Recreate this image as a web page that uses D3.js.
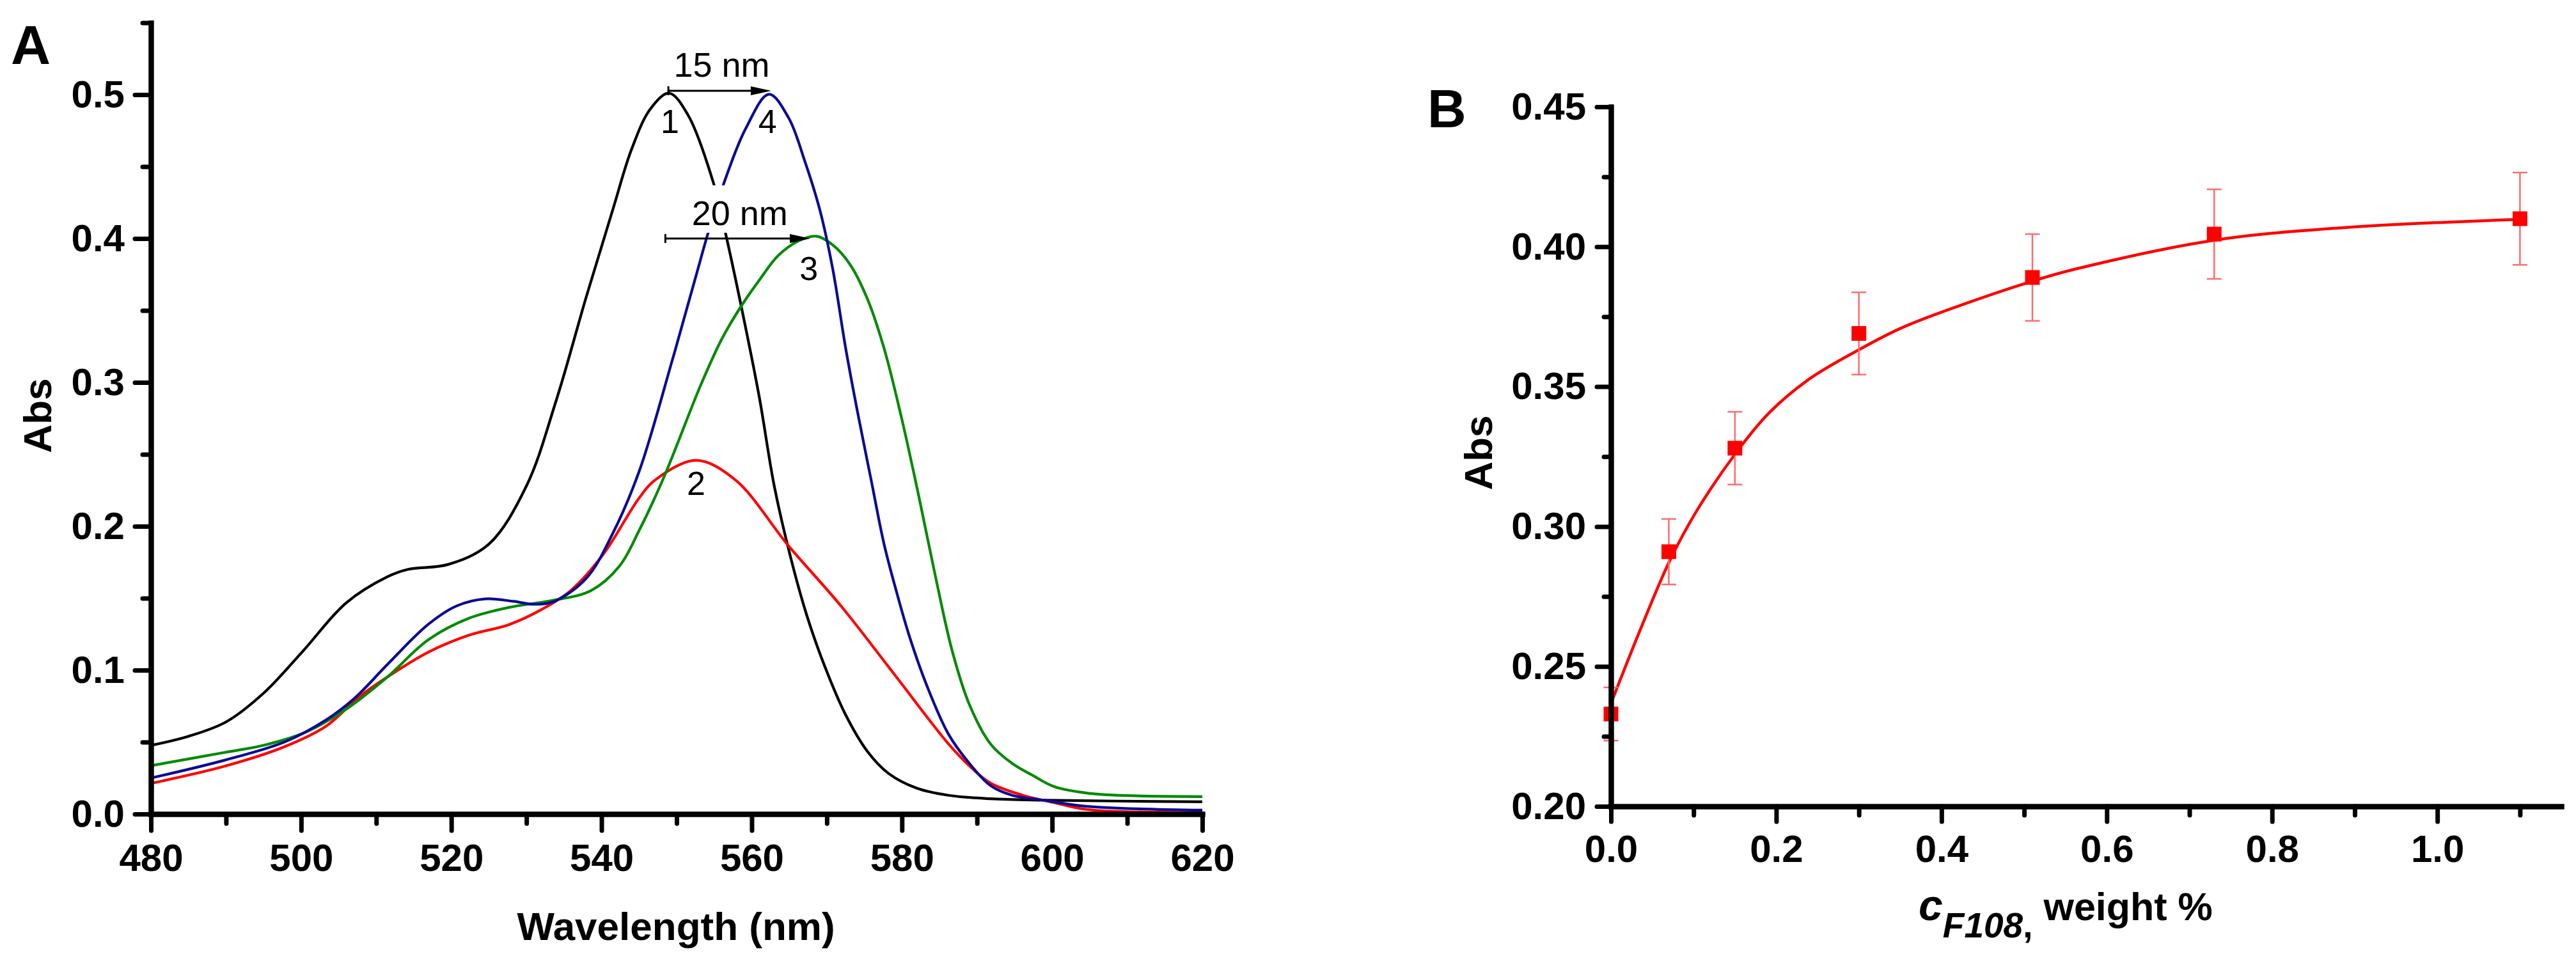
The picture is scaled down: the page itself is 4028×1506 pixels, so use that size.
<!DOCTYPE html>
<html>
<head>
<meta charset="utf-8">
<script src="https://cdn.jsdelivr.net/npm/d3@7"></script>
<style>
  body { margin: 0; background: #fff; }
  text { font-family: "Liberation Sans", Arial, sans-serif; }
</style>
</head>
<body>
<div id="chart"></div>
<script>
// ---- panel A : absorption spectra ----
var curve1Nm  = [480, 485, 490, 495, 500.1, 506, 511.5, 514.2, 519.6, 525, 530, 534, 538, 541.5, 544, 546.5, 549, 551.5, 555, 556.5, 558.6, 561, 563, 565.2, 567.4, 569.7, 572.5, 575.4, 578.2, 581.9, 586.2, 591.8, 598.9, 620];
var curve1Abs = [0.0477, 0.054, 0.064, 0.084, 0.1124, 0.1467, 0.1649, 0.170, 0.1735, 0.1876, 0.228, 0.288, 0.360, 0.420, 0.462, 0.490, 0.501, 0.486, 0.437, 0.404, 0.353, 0.290, 0.228, 0.178, 0.137, 0.103, 0.069, 0.0436, 0.0283, 0.0181, 0.013, 0.0106, 0.0096, 0.0085];

var curve2Nm  = [480, 489.8, 497.9, 503.3, 507.7, 511.5, 516.9, 522.3, 527.7, 532.1, 535.9, 540.3, 545, 547.2, 552.6, 557.8, 564.9, 572, 579.1, 586.2, 589, 591.8, 596.1, 600.3, 604.7, 620];
var curve2Abs = [0.0213, 0.0332, 0.047, 0.061, 0.0813, 0.0953, 0.1124, 0.1242, 0.1317, 0.1424, 0.1553, 0.181, 0.2196, 0.2324, 0.2458, 0.2323, 0.1864, 0.1439, 0.0963, 0.0487, 0.0334, 0.0215, 0.013, 0.0079, 0.0031, 0.001];

var curve3Nm  = [480, 489.8, 495.2, 500.6, 506, 511.5, 516.9, 522.3, 527.7, 533.2, 538.6, 542.4, 545, 548.3, 553.2, 556, 558.6, 561, 563.5, 566.3, 568.6, 570.8, 573.1, 575.4, 577.6, 579.9, 582.2, 584.5, 586.7, 589, 591.8, 594.7, 597.5, 600.3, 604.7, 610, 620];
var curve3Abs = [0.0336, 0.0428, 0.048, 0.0569, 0.0729, 0.0953, 0.121, 0.136, 0.1436, 0.1482, 0.1553, 0.1724, 0.197, 0.234, 0.298, 0.330, 0.353, 0.371, 0.388, 0.3985, 0.4016, 0.3955, 0.3819, 0.3581, 0.3241, 0.2765, 0.2221, 0.1643, 0.1133, 0.0759, 0.0487, 0.0351, 0.0266, 0.019, 0.0145, 0.0128, 0.0121];

var curve4Nm  = [480, 489.8, 497.9, 503.3, 507.1, 511.5, 516.9, 520.7, 524.5, 528.3, 531, 533.7, 538, 541.4, 545, 549.4, 552.6, 554.2, 556.2, 559.2, 562.3, 564.9, 567.1, 569.1, 570.8, 572.5, 574.2, 575.9, 577.6, 579.3, 581, 583.3, 586.2, 589, 591.8, 594.7, 598.9, 604.7, 620];
var curve4Abs = [0.025, 0.0374, 0.0503, 0.0653, 0.0804, 0.104, 0.1317, 0.1446, 0.1495, 0.1478, 0.1458, 0.1478, 0.164, 0.194, 0.238, 0.315, 0.3744, 0.404, 0.437, 0.4764, 0.5003, 0.484, 0.4533, 0.4193, 0.3785, 0.3241, 0.2765, 0.2323, 0.1881, 0.1541, 0.1235, 0.0895, 0.0555, 0.0351, 0.0198, 0.013, 0.0096, 0.0053, 0.0027];

var curveColors = ["#000000", "#ff0000", "#008a00", "#0a0a96"];

var wlTicks = [480, 500, 520, 540, 560, 580, 600, 620];
var absTicksA = [0.0, 0.1, 0.2, 0.3, 0.4, 0.5];

var peakLabels = ["1", "2", "3", "4"];
var peakLabelNm = [549.1, 552.6, 567.6, 562.1];
var peakLabelAbs = [0.4733, 0.2218, 0.371, 0.4733];

var shiftText = ["15 nm", "20 nm"];
var shiftFrom = [548.9, 548.5];
var shiftTo = [562.6, 567.8];
var shiftLevel = [0.5027, 0.400];

// ---- panel B : Abs vs F108 concentration ----
var concF108 = [0, 0.07, 0.15, 0.30, 0.51, 0.73, 1.10];
var absF108  = [0.233, 0.291, 0.328, 0.369, 0.389, 0.4045, 0.410];
var errF108  = [0.0095, 0.0117, 0.013, 0.0147, 0.0155, 0.016, 0.0165];

var fitConc = [0, 0.036, 0.071, 0.104, 0.151, 0.191, 0.239, 0.299, 0.351, 0.414, 0.509, 0.562, 0.73, 0.887, 1.10];
var fitAbs  = [0.2368, 0.2635, 0.2877, 0.3057, 0.3262, 0.3405, 0.3525, 0.3630, 0.3709, 0.3781, 0.3876, 0.392, 0.4023, 0.4068, 0.4098];

var concTicks = [0.0, 0.2, 0.4, 0.6, 0.8, 1.0];
var absTicksB = [0.20, 0.25, 0.30, 0.35, 0.40, 0.45];

var W = 4028, H = 1506;
var svg = d3.select("#chart").append("svg")
    .attr("width", W)
    .attr("height", H);
svg.append("rect").attr("width", W).attr("height", H).attr("fill", "#fff");

function styleAxis(g, width) {
    g.select(".domain").attr("stroke", "#000").attr("stroke-width", width).attr("stroke-linecap", "square");
    g.selectAll(".tick line").attr("stroke", "#000").attr("stroke-width", width - 1).attr("stroke-linecap", "round");
    g.selectAll(".tick text")
        .attr("fill", "#000")
        .style("font-size", "60px")
        .style("font-weight", "bold")
        .style("font-family", "'Liberation Sans', Arial, sans-serif");
}

// ================= panel A =================
var xA = d3.scaleLinear().domain([480, 620]).range([236, 1880]);
var yA = d3.scaleLinear().domain([0, 0.55]).range([1273, 35.5]);

var lineA = d3.line()
    .x(function(d) { return xA(d[0]); })
    .y(function(d) { return yA(d[1]); })
    .curve(d3.curveCatmullRom.alpha(0.5));

var spectra = [
    d3.zip(curve1Nm, curve1Abs),
    d3.zip(curve2Nm, curve2Abs),
    d3.zip(curve3Nm, curve3Abs),
    d3.zip(curve4Nm, curve4Abs)
];

var gA = svg.append("g");
// draw order: black, red, green, blue on top
[0, 1, 2, 3].forEach(function(i) {
    gA.append("path")
      .datum(spectra[i])
      .attr("d", lineA)
      .attr("fill", "none")
      .attr("stroke", curveColors[i])
      .attr("stroke-width", 4.2);
});

// white box behind the "20 nm" note (it hides the curves there)
gA.append("rect")
    .attr("x", xA(549.4))
    .attr("y", yA(0.437))
    .attr("width", xA(564.8) - xA(549.4))
    .attr("height", yA(0.404) - yA(0.437))
    .attr("fill", "#fff");

// shift arrows
shiftText.forEach(function(t, i) {
    var x0 = xA(shiftFrom[i]), x1 = xA(shiftTo[i]), yy = yA(shiftLevel[i]);
    gA.append("line")
      .attr("x1", x0).attr("x2", x1 - 20)
      .attr("y1", yy).attr("y2", yy)
      .attr("stroke", "#000").attr("stroke-width", 3);
    gA.append("line")
      .attr("x1", x0).attr("x2", x0)
      .attr("y1", yy - 7).attr("y2", yy + 7)
      .attr("stroke", "#000").attr("stroke-width", 3);
    gA.append("path")
      .attr("d", "M" + x1 + "," + yy + "L" + (x1 - 32) + "," + (yy - 7) + "L" + (x1 - 32) + "," + (yy + 7) + "Z")
      .attr("fill", "#000");
    gA.append("text")
      .attr("x", (x0 + x1) / 2 + 3)
      .attr("y", yy - (i == 0 ? 22 : 21))
      .attr("text-anchor", "middle")
      .style("font-size", "54px")
      .text(t);
});

peakLabels.forEach(function(t, i) {
    gA.append("text")
      .attr("x", xA(peakLabelNm[i]))
      .attr("y", yA(peakLabelAbs[i]))
      .attr("text-anchor", "middle")
      .style("font-size", "52px")
      .text(t);
});

// axes A
var axA_x = gA.append("g").attr("transform", "translate(0," + yA(0) + ")");
axA_x.call(d3.axisBottom(xA).tickValues(d3.range(490, 620, 20)).tickSize(15).tickFormat("").tickSizeOuter(0));
styleAxis(axA_x, 8);
var axA_x2 = gA.append("g").attr("transform", "translate(0," + yA(0) + ")");
axA_x2.call(d3.axisBottom(xA).tickValues(wlTicks).tickSize(26).tickPadding(20).tickFormat(d3.format("d")).tickSizeOuter(0));
styleAxis(axA_x2, 8);

var axA_y = gA.append("g").attr("transform", "translate(" + xA(480) + ",0)");
axA_y.call(d3.axisLeft(yA).tickValues([0.05, 0.15, 0.25, 0.35, 0.45, 0.55]).tickSize(13).tickFormat("").tickSizeOuter(0));
styleAxis(axA_y, 8);
var axA_y2 = gA.append("g").attr("transform", "translate(" + xA(480) + ",0)");
axA_y2.call(d3.axisLeft(yA).tickValues(absTicksA).tickSize(25).tickPadding(16).tickFormat(d3.format(".1f")).tickSizeOuter(0));
styleAxis(axA_y2, 8);

gA.append("text")
    .attr("x", 1057).attr("y", 1470)
    .attr("text-anchor", "middle")
    .style("font-size", "62px").style("font-weight", "bold")
    .text("Wavelength (nm)");
gA.append("text")
    .attr("transform", "translate(80,650) rotate(-90)")
    .attr("text-anchor", "middle")
    .style("font-size", "62px").style("font-weight", "bold")
    .text("Abs");
gA.append("text")
    .attr("x", 17).attr("y", 100)
    .style("font-size", "86px").style("font-weight", "bold")
    .text("A");

// ================= panel B =================
var xB = d3.scaleLinear().domain([0, 1.15]).range([2519, 4005]);
var yB = d3.scaleLinear().domain([0.20, 0.45]).range([1261, 167]);

var gB = svg.append("g");

var lineB = d3.line()
    .x(function(d) { return xB(d[0]); })
    .y(function(d) { return yB(d[1]); })
    .curve(d3.curveCatmullRom.alpha(0.5));

gB.append("path")
    .datum(d3.zip(fitConc, fitAbs))
    .attr("d", lineB)
    .attr("fill", "none")
    .attr("stroke", "#ff0000")
    .attr("stroke-width", 4.5);

var pts = d3.zip(concF108, absF108, errF108);
var eb = gB.append("g").attr("stroke", "#ff6b6b").attr("stroke-width", 2.5);
pts.forEach(function(p) {
    var cx = xB(p[0]);
    eb.append("line").attr("x1", cx).attr("x2", cx).attr("y1", yB(p[1] - p[2])).attr("y2", yB(p[1] + p[2]));
    eb.append("line").attr("x1", cx - 11.5).attr("x2", cx + 11.5).attr("y1", yB(p[1] + p[2])).attr("y2", yB(p[1] + p[2]));
    eb.append("line").attr("x1", cx - 11.5).attr("x2", cx + 11.5).attr("y1", yB(p[1] - p[2])).attr("y2", yB(p[1] - p[2]));
});
gB.selectAll("rect.pt").data(pts).enter().append("rect")
    .attr("class", "pt")
    .attr("x", function(d) { return xB(d[0]) - 11.5; })
    .attr("y", function(d) { return yB(d[1]) - 11.5; })
    .attr("width", 23).attr("height", 23)
    .attr("fill", "#ff0000");

var axB_x = gB.append("g").attr("transform", "translate(0," + yB(0.20) + ")");
axB_x.call(d3.axisBottom(xB).tickValues(d3.range(0.1, 1.15, 0.2)).tickSize(14).tickFormat("").tickSizeOuter(0));
styleAxis(axB_x, 8);
var axB_x2 = gB.append("g").attr("transform", "translate(0," + yB(0.20) + ")");
axB_x2.call(d3.axisBottom(xB).tickValues(concTicks).tickSize(24).tickPadding(20).tickFormat(d3.format(".1f")).tickSizeOuter(0));
styleAxis(axB_x2, 8);

var axB_y = gB.append("g").attr("transform", "translate(" + xB(0) + ",0)");
axB_y.call(d3.axisLeft(yB).tickValues([0.225, 0.275, 0.325, 0.375, 0.425]).tickSize(11).tickFormat("").tickSizeOuter(0));
styleAxis(axB_y, 8);
var axB_y2 = gB.append("g").attr("transform", "translate(" + xB(0) + ",0)");
axB_y2.call(d3.axisLeft(yB).tickValues(absTicksB).tickSize(22).tickPadding(17).tickFormat(d3.format(".2f")).tickSizeOuter(0));
styleAxis(axB_y2, 8);

var xt = gB.append("text")
    .attr("x", 3000).attr("y", 1439)
    .style("font-weight", "bold");
xt.append("tspan").style("font-size", "68px").style("font-style", "italic").text("c");
xt.append("tspan").attr("dy", 27).style("font-size", "55px").style("font-style", "italic").text("F108");
xt.append("tspan").style("font-size", "55px").text(",");
xt.append("tspan").attr("dy", -27).style("font-size", "61px").text(" weight %");

gB.append("text")
    .attr("transform", "translate(2333,708) rotate(-90)")
    .attr("text-anchor", "middle")
    .style("font-size", "62px").style("font-weight", "bold")
    .text("Abs");
gB.append("text")
    .attr("x", 2232).attr("y", 199)
    .style("font-size", "84px").style("font-weight", "bold")
    .text("B");
</script>
</body>
</html>
